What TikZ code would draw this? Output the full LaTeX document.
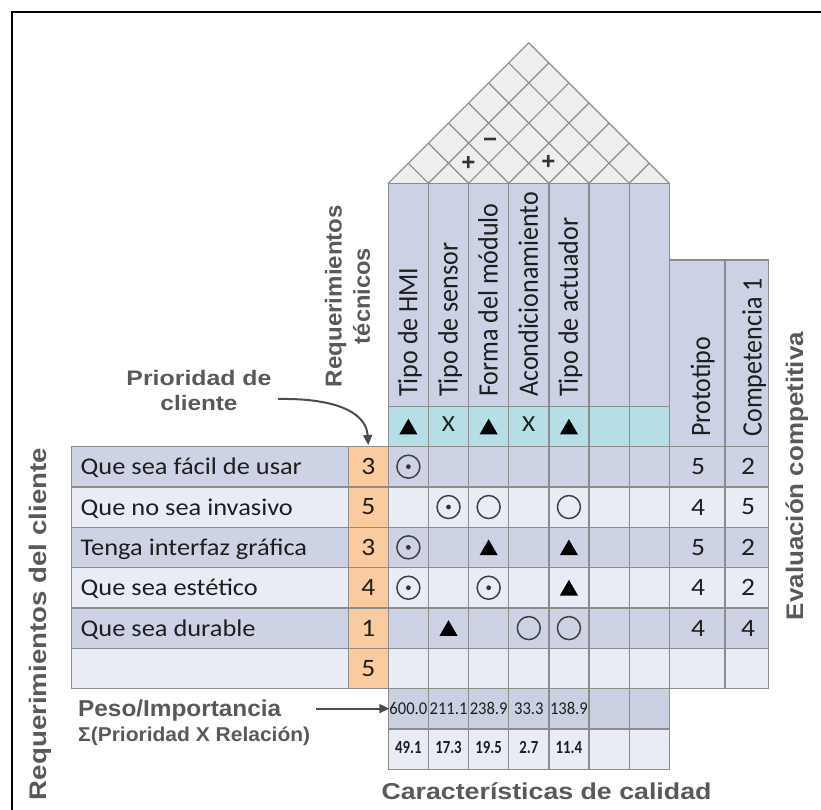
\documentclass[tikz,border=0pt]{standalone}
\usepackage{fontspec}
\setmainfont{Carlito}
\newfontfamily\headfont{Liberation Sans}
\usetikzlibrary{arrows.meta,shapes.geometric}

\definecolor{rowdark}{HTML}{CDD3E4}
\definecolor{rowlight}{HTML}{E9ECF4}
\definecolor{headblue}{HTML}{CBD2E6}
\definecolor{weightblue}{HTML}{C9D0E2}
\definecolor{cyanrow}{HTML}{B5DEE7}
\definecolor{peach}{HTML}{FBCBA0}
\definecolor{roofgray}{HTML}{EEEEEE}
\definecolor{gridgray}{HTML}{8C8C8C}
\definecolor{labelgray}{HTML}{595959}
\definecolor{inkdark}{HTML}{1E1E1E}

\newcommand\sx[2]{\scalebox{#1}[1]{#2}}
\newcommand\fitlen[2]{\resizebox{#1}{\height}{#2}}

% layout in pt (y grows downwards)
\def\colL{388.3}
\def\colW{40.14}
\def\rowT{446.5}
\def\rowH{40.35}
\def\roofB{183.3}

\begin{document}
\begin{tikzpicture}[x=1pt,y=-1pt,
  gridline/.style={draw=gridgray,line width=1.3pt},
  roofline/.style={draw=gridgray,line width=1.2pt},
  rowtext/.style={font=\fontsize{24}{28}\selectfont,text=inkdark,inner sep=0pt},
  numtext/.style={font=\fontsize{25}{28}\selectfont,text=inkdark,inner sep=0pt},
  headtext/.style={font=\fontsize{26}{30}\selectfont,text=inkdark,inner sep=0pt,rotate=90,anchor=base west},
  bigsans/.style={font=\headfont\bfseries\fontsize{24}{28}\selectfont,text=labelgray,inner sep=0pt},
  weighttext/.style={font=\fontsize{18}{20}\selectfont,text=inkdark,inner sep=0pt},
  pcttext/.style={font=\bfseries\fontsize{18.5}{20}\selectfont,text=inkdark,inner sep=0pt},
  tri/.style={regular polygon,regular polygon sides=3,fill=black,inner sep=0pt,minimum size=21pt},
  ring/.style={circle,draw=black!75,line width=1.5pt,inner sep=0pt,minimum size=23pt},
  dotring/.style={ring,path picture={\fill[black!80] (path picture bounding box.center) circle (2.4pt);}},
  pointer/.style={draw=black!70,line width=2pt,-{Triangle[length=10pt,width=9pt]}},
  sign/.style={font=\headfont\bfseries\fontsize{24}{26}\selectfont,text=black!80,inner sep=0pt},
]
\useasboundingbox (0,0) rectangle (821,810);

% outer frame
\draw[line width=2.2pt,black] (12,811) -- (12,12) -- (822,12);

% ---------- roof (correlation matrix) ----------
\pgfmathsetmacro\colR{\colL+7*\colW}
\pgfmathsetmacro\apexX{\colL+3.5*\colW}
\pgfmathsetmacro\apexY{\roofB-3.5*\colW}
\coordinate (apex) at (\apexX,\apexY);
\fill[roofgray] (\colL,\roofB) -- (apex) -- (\colR,\roofB) -- cycle;
\foreach \i in {1,...,6}{
  \pgfmathsetmacro\xi{\colL+\i*\colW}
  \pgfmathsetmacro\xr{(\xi+\colR)/2}
  \pgfmathsetmacro\yr{\roofB-(\colR-\xi)/2}
  \pgfmathsetmacro\xl{(\colL+\xi)/2}
  \pgfmathsetmacro\yl{\roofB-(\xi-\colL)/2}
  \draw[roofline] (\xl,\yl) -- (\xi,\roofB) -- (\xr,\yr);
}
\draw[roofline,line join=miter] (\colL,\roofB) -- (apex) -- (\colR,\roofB);
\node[sign] (plusA) at (468.3,163.5) {+};
\node[sign] (minusA) at (490,142.5) {\textminus};
\node[sign] (plusB) at (548.3,162.5) {+};

% ---------- technical requirement columns ----------
\foreach \i in {0,...,6}{
  \pgfmathsetmacro\xa{\colL+\i*\colW}
  \filldraw[fill=headblue,gridline] (\xa,\roofB) rectangle ++(\colW,223.4);
  \filldraw[fill=cyanrow,gridline] (\xa,406.7) rectangle ++(\colW,39.8);
}
% competitive evaluation headers
\filldraw[fill=headblue,gridline] (669.3,260) rectangle (725,\rowT);
\filldraw[fill=headblue,gridline] (725,260) rectangle (768.5,\rowT);

% ---------- customer rows ----------
\foreach \r in {1,...,6}{
  \pgfmathsetmacro\ya{\rowT+(\r-1)*\rowH}
  \pgfmathtruncatemacro\odd{mod(\r,2)}
  \ifnum\odd=1 \def\rc{rowdark}\else\def\rc{rowlight}\fi
  \filldraw[fill=\rc,gridline] (71.7,\ya) rectangle (348.3,\ya+\rowH);
  \filldraw[fill=peach,gridline] (348.3,\ya) rectangle (\colL,\ya+\rowH);
  \foreach \c in {0,...,6}{
    \pgfmathsetmacro\xa{\colL+\c*\colW}
    \filldraw[fill=\rc,gridline] (\xa,\ya) rectangle ++(\colW,\rowH);
  }
  \filldraw[fill=\rc,gridline] (669.3,\ya) rectangle (725,\ya+\rowH);
  \filldraw[fill=\rc,gridline] (725,\ya) rectangle (768.5,\ya+\rowH);
}
% weight and percentage rows
\foreach \c in {0,...,6}{
  \pgfmathsetmacro\xa{\colL+\c*\colW}
  \filldraw[fill=weightblue,gridline] (\xa,688.6) rectangle ++(\colW,40.4);
  \filldraw[fill=rowlight,gridline] (\xa,729) rectangle ++(\colW,40.4);
}

% cell centres of the relationship matrix
\foreach \r in {1,...,6}{
  \foreach \c in {1,...,7}{
    \coordinate (m-\r-\c) at ({\colL+(\c-0.5)*\colW},{\rowT+(\r-0.5)*\rowH});
  }
}
\foreach \c in {1,...,7}{
  \coordinate (d-\c) at ({\colL+(\c-0.5)*\colW},426.6);
}

% ---------- column headings ----------
\node[headtext] (h1) at ({\colL+0.5*\colW+9},397) {\scalebox{1}[1.08]{Tipo de HMI}};
\node[headtext] (h2) at ({\colL+1.5*\colW+9},397) {\scalebox{1}[1.08]{Tipo de sensor}};
\node[headtext] (h3) at ({\colL+2.5*\colW+9},397) {\scalebox{1}[1.08]{Forma del módulo}};
\node[headtext] (h4) at ({\colL+3.5*\colW+9},397) {\scalebox{1}[1.08]{Acondicionamiento}};
\node[headtext] (h5) at ({\colL+4.5*\colW+9},397) {\scalebox{1}[1.08]{Tipo de actuador}};
\node[headtext] (hp) at (710,436.7) {\scalebox{1}[1.08]{Prototipo}};
\node[headtext] (hc) at (761.5,436.7) {\scalebox{1}[1.08]{Competencia 1}};

% direction of improvement
\node[tri] (d1) at ([yshift=-2.6pt]d-1) {};
\node[numtext,font=\fontsize{23}{26}\selectfont] (d2) at ([yshift=2pt]d-2) {\sx{1.1}{X}};
\node[tri] (d3) at ([yshift=-2.6pt]d-3) {};
\node[numtext,font=\fontsize{23}{26}\selectfont] (d4) at ([yshift=2pt]d-4) {\sx{1.1}{X}};
\node[tri] (d5) at ([yshift=-2.6pt]d-5) {};

% ---------- customer requirements ----------
\foreach \r/\txt/\pr/\pp/\pc in {1/Que sea fácil de usar/3/5/2,
                                2/Que no sea invasivo/5/4/5,
                                3/Tenga interfaz gráfica/3/5/2,
                                4/Que sea estético/4/4/2,
                                5/Que sea durable/1/4/4}{
  \pgfmathsetmacro\yc{\rowT+(\r-0.5)*\rowH}
  \node[rowtext,anchor=base west] (cr\r) at (80.5,\yc+8) {\sx{1.1}{\txt}};
  \node[numtext] (o\r) at (368.3,\yc) {\sx{1.1}{\pr}};
  \node[numtext] (p\r) at (698,\yc) {\sx{1.1}{\pp}};
  \node[numtext] (k\r) at (748,\yc) {\sx{1.1}{\pc}};
}
\node[numtext] (o6) at (368.3,{\rowT+5.5*\rowH}) {\sx{1.1}{5}};

% ---------- relationships ----------
\node[dotring] (s11) at (m-1-1) {};
\node[dotring] (s22) at (m-2-2) {};
\node[ring]    (s23) at (m-2-3) {};
\node[ring]    (s25) at (m-2-5) {};
\node[dotring] (s31) at (m-3-1) {};
\node[tri]     (s33) at ([yshift=-2.6pt]m-3-3) {};
\node[tri]     (s35) at ([yshift=-2.6pt]m-3-5) {};
\node[dotring] (s41) at (m-4-1) {};
\node[dotring] (s43) at (m-4-3) {};
\node[tri]     (s45) at ([yshift=-2.6pt]m-4-5) {};
\node[tri]     (s52) at ([yshift=-2.6pt]m-5-2) {};
\node[ring]    (s54) at (m-5-4) {};
\node[ring]    (s55) at (m-5-5) {};

% ---------- importance ----------
\foreach \c/\w/\p in {1/600.0/49.1,2/211.1/17.3,3/238.9/19.5,4/33.3/2.7,5/138.9/11.4}{
  \node[weighttext] (w\c) at ({\colL+(\c-0.5)*\colW},708.6) {\sx{0.92}{\w}};
  \node[pcttext] (q\c) at ({\colL+(\c-0.5)*\colW},747.5) {\sx{0.8}{\p}};
}

% ---------- labels ----------
\node[bigsans,rotate=90] (reqcli) at (40,624) {\fitlen{352pt}{Requerimientos del cliente}};
\node[bigsans,rotate=90] (evalcomp) at (796.7,476) {\fitlen{288pt}{Evaluación competitiva}};
\node[bigsans,rotate=90,align=center,font=\headfont\bfseries\fontsize{23}{28.4}\selectfont]
  (reqtec) at (347.5,296) {\fitlen{182pt}{Requerimientos}\\\fitlen{96pt}{técnicos}};
\node[bigsans,align=center,font=\headfont\bfseries\fontsize{21}{25}\selectfont]
  (prio) at (199,390.5) {\fitlen{145pt}{Prioridad de}\\\fitlen{77pt}{cliente}};
\node[bigsans,anchor=base west,font=\headfont\bfseries\fontsize{23}{26}\selectfont]
  (peso) at (78,716) {\fitlen{203pt}{Peso/Importancia}};
\node[bigsans,anchor=base west,font=\headfont\bfseries\fontsize{20}{24}\selectfont]
  (sigma) at (78,741) {\fitlen{232pt}{Σ(Prioridad X Relación)}};
\node[bigsans,anchor=base,font=\headfont\bfseries\fontsize{23}{26}\selectfont]
  (carac) at (546.5,799.5) {\fitlen{330pt}{Características de calidad}};

% ---------- pointers ----------
\coordinate (prioTail) at (278,399);
\coordinate (o1top) at (368.3,445);
\draw[pointer] (prioTail) .. controls (330,398) and (366,410) .. (o1top);
\coordinate (pesoTail) at (316,708.6);
\draw[pointer] (pesoTail) -- (w1.west);
\end{tikzpicture}
\end{document}
